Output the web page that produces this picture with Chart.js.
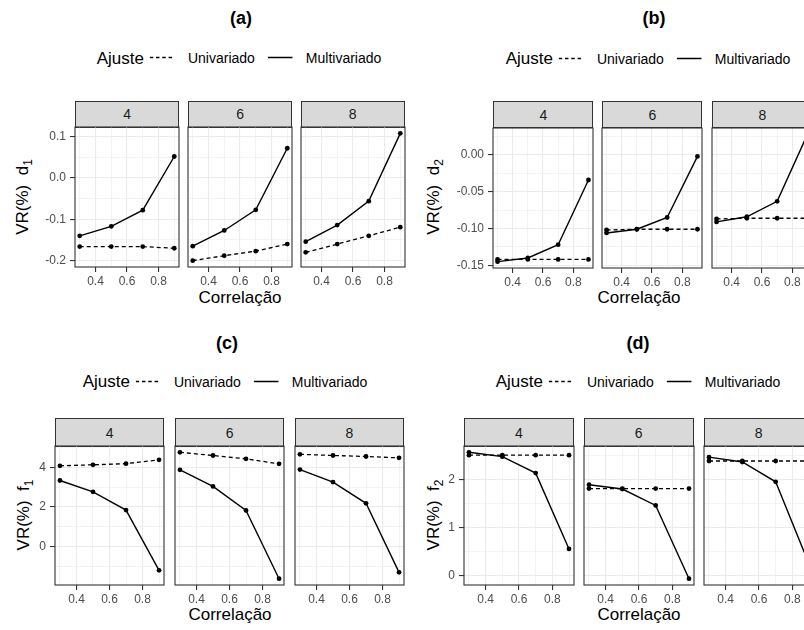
<!DOCTYPE html>
<html>
<head>
<meta charset="utf-8">
<script src="https://cdn.jsdelivr.net/npm/chart.js@4.4.1/dist/chart.umd.min.js"></script>
<style>
  html, body { margin: 0; padding: 0; background: #fff; overflow: hidden; }
  #root { position: relative; width: 804px; height: 630px; overflow: hidden; background: #fff;
          font-family: "Liberation Sans", Arial, Helvetica, sans-serif; color: #000; }
  .abs { position: absolute; white-space: nowrap; line-height: 1; transform: translate(-50%, -50%); }
  .title { font-weight: bold; font-size: 18px; }
  .xtitle { font-size: 17px; }
  .ytitle { font-size: 17px; transform: translate(-50%, -50%) rotate(-90deg); }
  .ytitle sub { font-size: 12px; vertical-align: -4px; line-height: 0; }
  .legend { display: flex; align-items: center; }
  .legend .lt { font-size: 17px; margin-right: 6px; }
  .legend .li { font-size: 14px; }
  .strip { position: absolute; box-sizing: border-box; border: 1px solid #333; background: #d9d9d9;
           font-size: 14px; color: #1a1a1a; display: flex; align-items: center; justify-content: center; }
  .facet { position: absolute; line-height: 0; }
  .facet canvas { display: block; }
</style>
</head>
<body>
<div id="root"></div>
<script>
// x: correlação, facets: 4, 6, 8
const correlacao = [0.3, 0.5, 0.7, 0.9];
const grupos = ['4', '6', '8'];
const xTicks = [0.3, 0.4, 0.5, 0.6, 0.7, 0.8, 0.9];
const xMajor = [0.4, 0.6, 0.8];

// (a) d1
const d1Uni   = [[-0.166, -0.166, -0.166, -0.170], [-0.200, -0.188, -0.177, -0.160], [-0.180, -0.160, -0.140, -0.119]];
const d1Multi = [[-0.140, -0.117, -0.078, 0.052], [-0.165, -0.127, -0.077, 0.072], [-0.154, -0.114, -0.056, 0.108]];
const d1Major = [-0.2, -0.1, 0.0, 0.1];
const d1Minor = [-0.15, -0.05, 0.05];
const d1Labels = ['-0.2', '-0.1', '0.0', '0.1'];

// (b) d2
const d2Uni   = [[-0.142, -0.142, -0.142, -0.142], [-0.102, -0.101, -0.101, -0.101], [-0.087, -0.086, -0.086, -0.086]];
const d2Multi = [[-0.145, -0.140, -0.122, -0.034], [-0.106, -0.101, -0.085, -0.002], [-0.091, -0.084, -0.063, 0.028]];
const d2Major = [-0.15, -0.10, -0.05, 0.00];
const d2Minor = [-0.125, -0.075, -0.025, 0.025];
const d2Labels = ['-0.15', '-0.10', '-0.05', '0.00'];

// (c) f1
const f1Uni   = [[4.07, 4.12, 4.18, 4.37], [4.75, 4.59, 4.42, 4.17], [4.65, 4.59, 4.54, 4.47]];
const f1Multi = [[3.33, 2.76, 1.84, -1.20], [3.87, 3.03, 1.82, -1.62], [3.88, 3.25, 2.18, -1.30]];
const f1Major = [0, 2, 4];
const f1Minor = [-1, 1, 3, 5];
const f1Labels = ['0', '2', '4'];

// (d) f2
const f2Uni   = [[2.50, 2.50, 2.50, 2.50], [1.81, 1.81, 1.81, 1.81], [2.38, 2.38, 2.38, 2.38]];
const f2Multi = [[2.56, 2.47, 2.13, 0.56], [1.89, 1.80, 1.46, -0.055], [2.46, 2.36, 1.95, 0.25]];
const f2Major = [0, 1, 2];
const f2Minor = [0.5, 1.5, 2.5];
const f2Labels = ['0', '1', '2'];

const FONT = '"Liberation Sans", Arial, Helvetica, sans-serif';
const XH = 26; // room under the panel for x tick labels

const panels = [
  { tag: '(a)', sub: '1', uni: d1Uni, multi: d1Multi, major: d1Major, minor: d1Minor, labels: d1Labels,
    facetLeft: [75.3, 188.3, 301], facetW: 103.5, stripTop: 100.7, plotTop: 127.3, plotBottom: 267.5, yW: 45,
    title: [241, 18], legend: [239, 57.5], yTitle: [22, 197], xTitle: [240, 297] },
  { tag: '(b)', sub: '2', uni: d2Uni, multi: d2Multi, major: d2Major, minor: d2Minor, labels: d2Labels,
    facetLeft: [493.3, 602.3, 712.3], facetW: 100, stripTop: 100.7, plotTop: 127.5, plotBottom: 267.5, yW: 45,
    title: [654, 18], legend: [648, 58], yTitle: [433, 197], xTitle: [639, 297] },
  { tag: '(c)', sub: '1', uni: f1Uni, multi: f1Multi, major: f1Major, minor: f1Minor, labels: f1Labels,
    facetLeft: [55, 175, 294.7], facetW: 109.3, stripTop: 418.3, plotTop: 446, plotBottom: 584.5, yW: 40,
    title: [227, 343], legend: [225, 381], yTitle: [23, 515], xTitle: [230, 614] },
  { tag: '(d)', sub: '2', uni: f2Uni, multi: f2Multi, major: f2Major, minor: f2Minor, labels: f2Labels,
    facetLeft: [464, 583.7, 703.7], facetW: 110, stripTop: 418.3, plotTop: 446, plotBottom: 584.5, yW: 40,
    title: [638, 343], legend: [638, 381], yTitle: [433, 515], xTitle: [639, 614] },
];
const yVar = ['d', 'd', 'f', 'f'];

const root = document.getElementById('root');

function addText(cls, html, x, y) {
  const el = document.createElement('div');
  el.className = 'abs ' + cls;
  el.innerHTML = html;
  el.style.left = x + 'px';
  el.style.top = y + 'px';
  root.appendChild(el);
  return el;
}

function keySvg(dashed) {
  const dash = dashed ? ' stroke-dasharray="3.5,2.8"' : '';
  return '<svg width="25" height="8" style="display:block"><line x1="0" y1="4" x2="25" y2="4" stroke="#000" stroke-width="1.4"' + dash + '/></svg>';
}

const panelBorder = {
  id: 'panelBorder',
  afterDraw(chart) {
    const { ctx, chartArea: a } = chart;
    ctx.save();
    ctx.strokeStyle = '#333';
    ctx.lineWidth = 1.1;
    ctx.strokeRect(a.left, a.top, a.right - a.left, a.bottom - a.top);
    ctx.restore();
  }
};

function expandRange(p) {
  const all = p.uni.flat().concat(p.multi.flat());
  const lo = Math.min(...all), hi = Math.max(...all);
  const pad = (hi - lo) * 0.05;
  return [lo - pad, hi + pad];
}

function facetChart(p, f, yRange) {
  const first = f === 0;
  const padL = first ? 0 : 2;
  const yW = first ? p.yW : 0;
  const w = Math.round(yW + padL + p.facetW + 2);
  const h = Math.round(2 + (p.plotBottom - p.plotTop) + XH);
  const box = document.createElement('div');
  box.className = 'facet';
  box.style.left = (p.facetLeft[f] - yW - padL) + 'px';
  box.style.top = (p.plotTop - 2) + 'px';
  const cv = document.createElement('canvas');
  cv.width = w; cv.height = h;
  cv.style.width = w + 'px'; cv.style.height = h + 'px';
  box.appendChild(cv);
  root.appendChild(box);

  const yTicks = p.major.concat(p.minor).sort((a, b) => a - b);
  const isMajorY = v => p.major.includes(v);
  const isMajorX = v => xMajor.includes(v);

  new Chart(cv, {
    type: 'line',
    data: {
      datasets: [
        { label: 'Univariado', data: correlacao.map((x, i) => ({ x, y: p.uni[f][i] })),
          borderColor: '#000', borderWidth: 1.3, borderDash: [4, 3],
          pointRadius: 2.4, pointBackgroundColor: '#000', pointBorderWidth: 0, tension: 0 },
        { label: 'Multivariado', data: correlacao.map((x, i) => ({ x, y: p.multi[f][i] })),
          borderColor: '#000', borderWidth: 1.4,
          pointRadius: 2.4, pointBackgroundColor: '#000', pointBorderWidth: 0, tension: 0 }
      ]
    },
    options: {
      responsive: false,
      animation: false,
      events: [],
      layout: { autoPadding: false, padding: { top: 2, right: 2, left: padL, bottom: 0 } },
      plugins: { legend: { display: false }, tooltip: { enabled: false } },
      scales: {
        x: {
          type: 'linear', min: 0.27, max: 0.93,
          afterBuildTicks: s => { s.ticks = xTicks.map(v => ({ value: v })); },
          afterFit: s => { s.height = XH; s.paddingLeft = 0; s.paddingRight = 0; },
          border: { display: false },
          grid: {
            color: '#ebebeb',
            lineWidth: c => (c.tick && isMajorX(c.tick.value)) ? 1.1 : 0.6,
            tickLength: 5,
            tickColor: c => (c.tick && isMajorX(c.tick.value)) ? '#333' : 'rgba(0,0,0,0)'
          },
          ticks: {
            autoSkip: false, maxRotation: 0, padding: 2, color: '#4d4d4d',
            font: { family: FONT, size: 12 },
            callback: v => isMajorX(v) ? v.toFixed(1) : ''
          }
        },
        y: {
          type: 'linear', min: yRange[0], max: yRange[1],
          afterBuildTicks: s => { s.ticks = yTicks.map(v => ({ value: v })); },
          afterFit: s => { s.width = yW; s.paddingTop = 0; s.paddingBottom = 0; },
          border: { display: false },
          grid: {
            color: '#ebebeb',
            lineWidth: c => (c.tick && isMajorY(c.tick.value)) ? 1.1 : 0.6,
            drawTicks: first,
            tickLength: 5,
            tickColor: c => (c.tick && isMajorY(c.tick.value)) ? '#333' : 'rgba(0,0,0,0)'
          },
          ticks: {
            display: first, autoSkip: false, padding: 4, color: '#4d4d4d',
            font: { family: FONT, size: 12 },
            callback: v => isMajorY(v) ? p.labels[p.major.indexOf(v)] : ''
          }
        }
      }
    },
    plugins: [panelBorder]
  });
}

panels.forEach((p, k) => {
  addText('title', p.tag, p.title[0], p.title[1]);
  const lg = addText('legend', '', p.legend[0], p.legend[1]);
  lg.innerHTML =
    '<span class="lt">Ajuste</span>' +
    '<span style="margin-right:13px">' + keySvg(true) + '</span>' +
    '<span class="li" style="margin-right:12.7px">Univariado</span>' +
    '<span style="margin-right:13.3px">' + keySvg(false) + '</span>' +
    '<span class="li">Multivariado</span>';
  addText('ytitle', 'VR(%)&nbsp;&nbsp;' + yVar[k] + '<sub>' + p.sub + '</sub>', p.yTitle[0], p.yTitle[1]);
  addText('xtitle', 'Correlação', p.xTitle[0], p.xTitle[1]);

  const yRange = expandRange(p);
  grupos.forEach((g, f) => {
    const s = document.createElement('div');
    s.className = 'strip';
    s.style.left = p.facetLeft[f] + 'px';
    s.style.top = p.stripTop + 'px';
    s.style.width = p.facetW + 'px';
    s.style.height = (p.plotTop - p.stripTop + 1) + 'px';
    s.textContent = g;
    root.appendChild(s);
    facetChart(p, f, yRange);
  });
});
</script>
</body>
</html>
